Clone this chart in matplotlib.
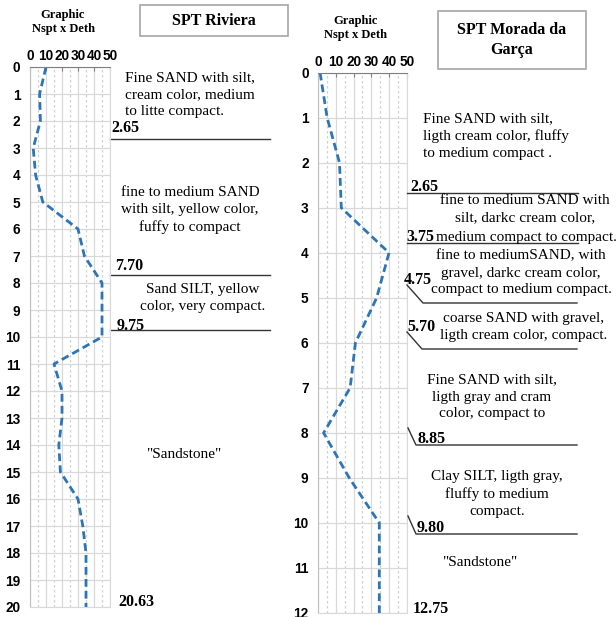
import numpy as np
import matplotlib.pyplot as plt
from matplotlib.lines import Line2D
from matplotlib.patches import Rectangle
import matplotlib.transforms as mtransforms

W, H = 616, 617

# SPT Riviera: Nspt against depth (m)
depth_riv = np.arange(0, 21)
nspt_riv = [10, 6, 6.5, 2, 3.5, 8, 30, 34, 45, 45, 45, 15, 20, 20, 18, 19, 30, 33, 35, 35, 35]
layers_riv = ['2.65', '7.70', '9.75']
bounds_riv = [2.65, 7.70, 9.75]
end_riv = '20.63'

# SPT Morada da Garça
depth_mor = np.arange(0, 13)
nspt_mor = [1, 5, 12, 13, 40, 33, 21, 18, 3, 17.5, 34.5, 34.5, 34.5]
end_mor = '12.75'

xticks = [0, 10, 20, 30, 40, 50]

serif = 'Liberation Serif'
sans = 'Liberation Sans'
blue = '#2E75B6'
FS = 11.0   # description text
NS = 11.5   # bold depth numbers

fig = plt.figure(figsize=(W / 100, H / 100), dpi=100)


def px(x, y):
    return x / W, 1 - y / H


def ftext(x, y, s, **kw):
    kw.setdefault('family', serif)
    kw.setdefault('fontsize', FS)
    kw.setdefault('va', 'center')
    kw.setdefault('linespacing', 1.4)
    fig.text(*px(x, y), s, **kw)


def num(x, y, s):
    ftext(x, y, s, ha='left', fontsize=NS, fontweight='bold')


def fline(xs, ys):
    fx = [x / W for x in xs]
    fy = [1 - y / H for y in ys]
    fig.add_artist(Line2D(fx, fy, color='#333333', lw=1.0))


def setup(ax, ymax):
    ax.set_xlim(0, 50)
    ax.set_ylim(ymax, 0)
    ax.xaxis.tick_top()
    ax.set_xticks(xticks)
    ax.set_xticks(np.arange(5, 50, 10), minor=True)
    ax.set_yticks(np.arange(0, ymax + 1))
    for lbl in ax.get_xticklabels() + ax.get_yticklabels():
        lbl.set_fontfamily(sans)
        lbl.set_fontweight('bold')
        lbl.set_fontsize(9.8)
    ax.tick_params(axis='x', which='major', direction='in', length=3, color='#7F7F7F', pad=3)
    ax.tick_params(axis='x', which='minor', length=0)
    ax.tick_params(axis='y', length=0, pad=7)
    ax.grid(True, axis='y', color='#D9D9D9', lw=0.9)
    ax.grid(True, axis='x', which='major', color='#D9D9D9', lw=0.9)
    ax.grid(True, axis='x', which='minor', color='#D0D0D0', lw=0.9, ls=(0, (2, 2)))
    for s in ax.spines.values():
        s.set_color('#D9D9D9')
    ax.spines['top'].set_color('#7F7F7F')
    ax.spines['left'].set_color('#BFBFBF')
    ax.set_axisbelow(True)


ax1 = fig.add_axes([30 / W, 1 - 607 / H, 80 / W, 540 / H])
setup(ax1, 20)
ax1.plot(nspt_riv, depth_riv, color=blue, lw=2, ls=(0, (2.8, 1.5)))

ax2 = fig.add_axes([318.3 / W, 1 - 613 / H, 88.4 / W, 540.3 / H])
setup(ax2, 12)
ax2.plot(nspt_mor, depth_mor, color=blue, lw=2, ls=(0, (2.8, 1.5)))

# boundary lines of the left profile, at their depths
tr1 = mtransforms.blended_transform_factory(ax1.transAxes, ax1.transData)
for b in bounds_riv:
    ax1.plot([1.0, 3.0], [b, b], color='#333333', lw=1.0, transform=tr1, clip_on=False)

# headers
ftext(63, 22, 'Graphic\nNspt x Deth', ha='center', fontsize=9, fontweight='bold', linespacing=1.15)
ftext(356, 28, 'Graphic\nNspt x Deth', ha='center', fontsize=9, fontweight='bold', linespacing=1.15)
fig.add_artist(Rectangle(px(140, 36), 148 / W, 31 / H, fill=False, ec='#A6A6A6', lw=1.2,
                         transform=fig.transFigure))
ftext(214, 21, 'SPT Riviera', ha='center', fontsize=11.5, fontweight='bold')
fig.add_artist(Rectangle(px(438, 69), 148 / W, 58 / H, fill=False, ec='#A6A6A6', lw=1.2,
                         transform=fig.transFigure))
ftext(512, 40, 'SPT Morada da\nGarça', ha='center', fontsize=11.5, fontweight='bold', linespacing=1.3)

# left descriptions
ftext(125, 95, 'Fine SAND with silt,\ncream color, medium\nto litte compact.', ha='left')
ftext(190, 210, 'fine to medium SAND\nwith silt, yellow color,\nfuffy to compact', ha='center')
ftext(203, 298, 'Sand SILT, yellow\ncolor, very compact.', ha='center')
ftext(184, 455, '"Sandstone"', ha='center')
for lab, x, y in zip(layers_riv, [111, 115, 117], [128, 266, 326]):
    num(x, y, lab)
num(118, 602, end_riv)

# right descriptions
ftext(423, 136, 'Fine SAND with silt,\nligth cream color, fluffy\nto medium compact .', ha='left')
num(410, 187, '2.65')
fline([406.7, 578], [193, 193])
ftext(525, 209, 'fine to medium SAND with\nsilt, darkc cream color,', ha='center')
num(406, 237, '3.75')
ftext(436, 237, 'medium compact to compact.', ha='left')
fline([406.7, 578], [243, 243])
ftext(521, 273, 'fine to mediumSAND, with\ngravel, darkc cream color,\ncompact to medium compact.', ha='center')
num(404, 280, '4.75')
fline([407, 423, 577], [285, 303, 303])
ftext(524, 327, 'coarse SAND with gravel,\nligth cream color, compact.', ha='center')
num(407, 327, '5.70')
fline([407, 422, 577], [332, 349, 349])
ftext(492, 397, 'Fine SAND with silt,\nligth gray and cram\ncolor, compact to', ha='center')
num(417, 439, '8.85')
fline([408, 416, 577], [428, 445, 445])
ftext(497, 494, 'Clay SILT, ligth gray,\nfluffy to medium\ncompact.', ha='center')
num(417, 528, '9.80')
fline([408, 416, 577], [516, 534, 534])
ftext(480, 562, '"Sandstone"', ha='center')
num(413, 609, end_mor)

fig.savefig('out.png', dpi=100)
